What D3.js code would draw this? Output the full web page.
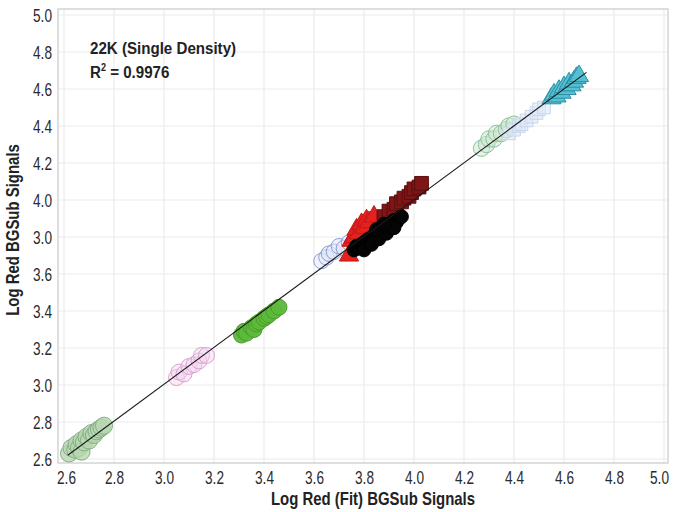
<!DOCTYPE html>
<html>
<head>
<meta charset="utf-8">
<script src="https://cdn.jsdelivr.net/npm/d3@7"></script>
<style>
  html, body { margin: 0; padding: 0; background: #fff; }
  svg { display: block; }
  text { font-family: "Liberation Sans", Arial, sans-serif; }
</style>
</head>
<body>
<svg id="chart" width="673" height="512"></svg>
<script>
// ---- data ----
const xTicks = [2.6, 2.8, 3.0, 3.2, 3.4, 3.6, 3.8, 4.0, 4.2, 4.4, 4.6, 4.8, 5.0];
const xTickLabels = ["2.6", "2.8", "3.0", "3.2", "3.4", "3.6", "3.8", "4.0", "4.2", "4.4", "4.6", "4.8", "5.0"];
const yTicks = [2.6, 2.8, 3.0, 3.2, 3.4, 3.6, 3.8, 4.0, 4.2, 4.4, 4.6, 4.8, 5.0];
const yTickLabels = ["2.6", "2.8", "3.0", "3.2", "3.4", "3.6", "3.0", "4.0", "4.2", "4.4", "4.6", "4.8", "5.0"];

const xTitle = "Log Red (Fit) BGSub Signals";
const yTitle = "Log Red BGSub Signals";
const noteLine1 = "22K (Single Density)";
const noteR2 = "0.9976";

const fitLine = { x: [2.615, 4.69], y: [2.62, 4.69] };

const s1x = [2.62, 2.63, 2.645, 2.65, 2.66, 2.67, 2.67, 2.68, 2.69, 2.70, 2.71, 2.72, 2.73, 2.74, 2.75, 2.76];
const s1y = [2.63, 2.66, 2.65, 2.68, 2.66, 2.70, 2.64, 2.69, 2.72, 2.70, 2.74, 2.73, 2.75, 2.76, 2.77, 2.78];

const s2x = [3.05, 3.06, 3.08, 3.10, 3.12, 3.14, 3.15, 3.17];
const s2y = [3.04, 3.07, 3.06, 3.10, 3.11, 3.13, 3.16, 3.16];

const s3x = [3.31, 3.32, 3.33, 3.35, 3.36, 3.37, 3.38, 3.40, 3.41, 3.42, 3.44, 3.46];
const s3y = [3.27, 3.29, 3.28, 3.31, 3.30, 3.33, 3.34, 3.36, 3.37, 3.38, 3.40, 3.42];

const s4x = [3.63, 3.65, 3.66, 3.68, 3.70, 3.72, 3.74];
const s4y = [3.67, 3.69, 3.71, 3.72, 3.75, 3.74, 3.77];

const s5x = [3.74, 3.75, 3.76, 3.77, 3.78, 3.79, 3.80, 3.81, 3.82, 3.84];
const s5y = [3.70, 3.78, 3.80, 3.84, 3.82, 3.87, 3.85, 3.89, 3.88, 3.91];

const s6x = [3.76, 3.77, 3.78, 3.79, 3.80, 3.80, 3.81, 3.82, 3.83, 3.84, 3.84, 3.85, 3.86, 3.87, 3.88, 3.88, 3.89, 3.90, 3.91, 3.92, 3.93, 3.94, 3.95, 3.80, 3.83, 3.86, 3.89, 3.92, 3.85, 3.88];
const s6y = [3.73, 3.75, 3.74, 3.76, 3.77, 3.75, 3.78, 3.79, 3.78, 3.81, 3.79, 3.82, 3.83, 3.82, 3.85, 3.84, 3.86, 3.87, 3.86, 3.89, 3.88, 3.90, 3.91, 3.73, 3.76, 3.79, 3.82, 3.85, 3.84, 3.87];

const s7x = [3.88, 3.90, 3.92, 3.93, 3.95, 3.96, 3.98, 3.99, 4.00, 4.02, 4.03];
const s7y = [3.91, 3.94, 3.95, 3.98, 3.99, 4.01, 4.02, 4.04, 4.06, 4.07, 4.09];

const s8x = [4.27, 4.29, 4.30, 4.32, 4.33, 4.35, 4.37, 4.38, 4.40];
const s8y = [4.28, 4.30, 4.33, 4.33, 4.36, 4.36, 4.38, 4.40, 4.41];

const s9x = [4.38, 4.40, 4.42, 4.43, 4.45, 4.47, 4.49, 4.50, 4.52];
const s9y = [4.36, 4.38, 4.40, 4.41, 4.43, 4.45, 4.47, 4.49, 4.50];

const s10x = [4.55, 4.56, 4.57, 4.58, 4.59, 4.60, 4.61, 4.62, 4.63, 4.64, 4.65, 4.66];
const s10y = [4.55, 4.57, 4.56, 4.59, 4.58, 4.61, 4.60, 4.63, 4.62, 4.64, 4.66, 4.67];

// ---- styles ----
const seriesList = [
  { xs: s1x, ys: s1y, shape: d3.symbolCircle, size: 230, fill: "#b7d7b0", fo: 0.8, stroke: "#86ad86" },
  { xs: s2x, ys: s2y, shape: d3.symbolCircle, size: 200, fill: "#f2d4ee", fo: 0.45, stroke: "#d9a3d2" },
  { xs: s3x, ys: s3y, shape: d3.symbolCircle, size: 200, fill: "#5cb83a", fo: 0.95, stroke: "#4b9c2c" },
  { xs: s4x, ys: s4y, shape: d3.symbolCircle, size: 190, fill: "#e2e7f8", fo: 0.5, stroke: "#8e9ed6" },
  { xs: s5x, ys: s5y, shape: d3.symbolTriangle, size: 160, fill: "#e3211f", fo: 1, stroke: "#c41818" },
  { xs: s7x, ys: s7y, shape: d3.symbolSquare, size: 190, fill: "#7d1717", fo: 1, stroke: "#5e0c0c" },
  { xs: s6x, ys: s6y, shape: d3.symbolCircle, size: 150, fill: "#050505", fo: 1, stroke: "#000" },
  { xs: s8x, ys: s8y, shape: d3.symbolCircle, size: 210, fill: "#cfe8d3", fo: 0.55, stroke: "#8cc39b" },
  { xs: s9x, ys: s9y, shape: d3.symbolSquare, size: 160, fill: "#dde7f5", fo: 0.6, stroke: "#c7d5ed" },
  { xs: s10x, ys: s10y, shape: d3.symbolTriangle, size: 160, fill: "#55bfd3", fo: 1, stroke: "#2e8fa4" }
];

const FONT = '"Liberation Sans", Arial, sans-serif';

// ---- layout ----
const svg = d3.select("#chart");
const x = d3.scaleLinear().domain([2.6, 5.0]).range([64, 664]);
const y = d3.scaleLinear().domain([2.6, 5.0]).range([459, 15]);
const frame = { l: 58, t: 9, r: 668, b: 463 };

// gridlines
svg.append("g").selectAll("line.vg").data(xTicks).join("line")
  .attr("x1", d => x(d)).attr("x2", d => x(d))
  .attr("y1", frame.t).attr("y2", frame.b)
  .attr("stroke", "#ebebeb").attr("stroke-width", 1.2);
svg.append("g").selectAll("line.hg").data(yTicks).join("line")
  .attr("y1", d => y(d)).attr("y2", d => y(d))
  .attr("x1", frame.l).attr("x2", frame.r)
  .attr("stroke", "#ebebeb").attr("stroke-width", 1.2);

// frame
svg.append("rect")
  .attr("x", frame.l).attr("y", frame.t)
  .attr("width", frame.r - frame.l).attr("height", frame.b - frame.t)
  .attr("fill", "none").attr("stroke", "#d4d4d4").attr("stroke-width", 1.5);

// axes (labels only)
const xAxis = d3.axisBottom(x).tickValues(xTicks).tickSize(0).tickPadding(0)
  .tickFormat((d, i) => xTickLabels[i]);
const gx = svg.append("g").attr("transform", `translate(0,${frame.b})`).call(xAxis);
gx.select(".domain").remove();
gx.selectAll("text").attr("dy", null).attr("y", 0)
  .attr("font-size", 17.5).attr("fill", "#2b2b2b")
  .attr("transform", (d, i) => {
    const dx = i === 0 ? 2 : (i === xTicks.length - 1 ? -5 : 0);
    return `translate(${dx},21) scale(0.78,1)`;
  })
  .style("font-family", FONT);

const yAxis = d3.axisLeft(y).tickValues(yTicks).tickSize(0).tickPadding(0)
  .tickFormat((d, i) => yTickLabels[i]);
const gy = svg.append("g").attr("transform", `translate(52,0)`).call(yAxis);
gy.select(".domain").remove();
gy.selectAll("text").attr("x", 0).attr("dy", "0.36em")
  .attr("font-size", 17.5).attr("fill", "#2b2b2b")
  .attr("transform", "scale(0.78,1)")
  .style("font-family", FONT);

// series
const pts = svg.append("g");
seriesList.forEach(s => {
  const sym = d3.symbol().type(s.shape).size(s.size);
  pts.append("g").selectAll("path").data(s.xs.map((v, i) => [v, s.ys[i]])).join("path")
    .attr("d", sym)
    .attr("transform", d => `translate(${x(d[0])},${y(d[1])})`)
    .attr("fill", s.fill).attr("fill-opacity", s.fo)
    .attr("stroke", s.stroke).attr("stroke-width", 1);
});

// fit line
svg.append("line")
  .attr("x1", x(fitLine.x[0])).attr("y1", y(fitLine.y[0]))
  .attr("x2", x(fitLine.x[1])).attr("y2", y(fitLine.y[1]))
  .attr("stroke", "#1a1a1a").attr("stroke-width", 1.1);

// annotation
const note = svg.append("g").attr("font-weight", "bold").attr("fill", "#222")
  .style("font-family", FONT);
note.append("text").attr("transform", "translate(90,54) scale(0.9,1)").attr("font-size", 16.8).text(noteLine1);
const t2 = note.append("text").attr("transform", "translate(90,78) scale(0.9,1)").attr("font-size", 16.8);
t2.append("tspan").text("R");
t2.append("tspan").attr("font-size", 10).attr("dy", -7).text("2");
t2.append("tspan").attr("dy", 7).text(" = " + noteR2);

// axis titles
svg.append("text").attr("transform", "translate(373,505) scale(0.83,1)").attr("text-anchor", "middle")
  .attr("font-size", 18).attr("font-weight", "bold").attr("fill", "#222")
  .style("font-family", FONT)
  .text(xTitle);
svg.append("text").attr("transform", "translate(19,230) rotate(-90) scale(0.83,1)").attr("text-anchor", "middle")
  .attr("font-size", 18).attr("font-weight", "bold").attr("fill", "#222")
  .style("font-family", FONT)
  .text(yTitle);
</script>
</body>
</html>
